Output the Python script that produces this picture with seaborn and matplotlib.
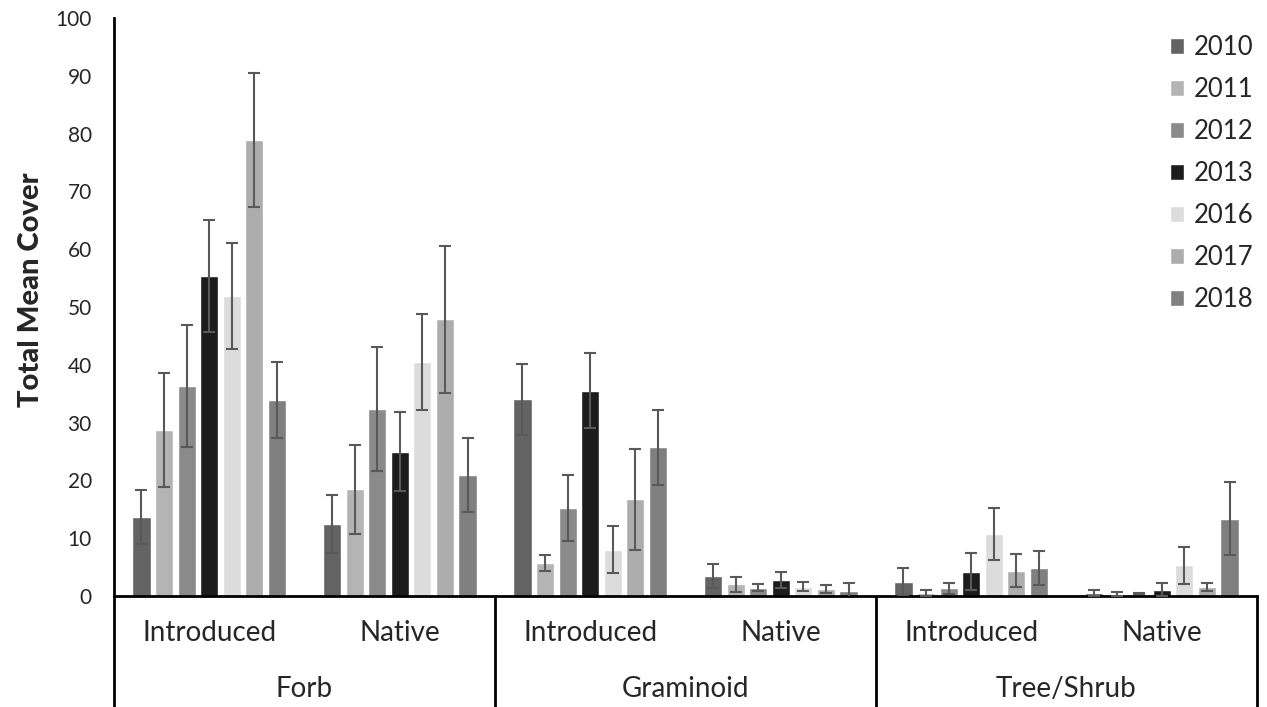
import matplotlib
matplotlib.use("Agg")
import matplotlib.pyplot as plt
import seaborn as sns
import pandas as pd
from matplotlib.transforms import blended_transform_factory

# ---------------- data ----------------
years = ["2010", "2011", "2012", "2013", "2016", "2017", "2018"]
groups = ["Forb", "Graminoid", "Tree/Shrub"]
origins = ["Introduced", "Native"]

# order: Forb-Intro, Forb-Native, Gram-Intro, Gram-Native, Tree-Intro, Tree-Native
mean_2010 = [13.7, 12.4, 34.0, 3.5, 2.5, 0.5]
mean_2011 = [28.7, 18.5, 5.7, 2.0, 0.5, 0.35]
mean_2012 = [36.3, 32.4, 15.3, 1.4, 1.3, 0.4]
mean_2013 = [55.4, 25.0, 35.5, 2.8, 4.2, 1.1]
mean_2016 = [51.9, 40.5, 8.0, 1.6, 10.8, 5.3]
mean_2017 = [78.9, 47.9, 16.7, 1.2, 4.4, 1.5]
mean_2018 = [33.9, 20.9, 25.7, 0.8, 4.8, 13.4]

se_2010 = [4.7, 5.0, 6.1, 2.1, 2.3, 0.5]
se_2011 = [9.9, 7.7, 1.4, 1.3, 0.5, 0.3]
se_2012 = [10.6, 10.7, 5.7, 0.6, 0.9, 0.05]
se_2013 = [9.7, 6.8, 6.5, 1.4, 3.2, 1.1]
se_2016 = [9.2, 8.3, 4.1, 0.8, 4.5, 3.2]
se_2017 = [11.6, 12.7, 8.8, 0.7, 2.8, 0.7]
se_2018 = [6.6, 6.4, 6.5, 1.4, 2.9, 6.3]

y_ticks = [0, 10, 20, 30, 40, 50, 60, 70, 80, 90, 100]

means = [mean_2010, mean_2011, mean_2012, mean_2013, mean_2016, mean_2017, mean_2018]
ses = [se_2010, se_2011, se_2012, se_2013, se_2016, se_2017, se_2018]

colors = ["#636363", "#b4b4b4", "#8a8a8a", "#1c1c1c", "#dcdcdc", "#adadad", "#808080"]

cats = [f"{g}|{o}" for g in groups for o in origins]
rows = []
for yr, mv in zip(years, means):
    for c, v in zip(cats, mv):
        rows.append({"cat": c, "year": yr, "cover": v})
df = pd.DataFrame(rows)

# ---------------- plot ----------------
sns.set_theme(style="white")
plt.rcParams["font.family"] = ["Lato", "DejaVu Sans"]

W, H = 1267, 707
fig = plt.figure(figsize=(W / 100, H / 100), dpi=100)
ax = fig.add_axes([114 / W, 1 - 596 / H, (1257 - 114) / W, (596 - 18) / H])

sns.barplot(data=df, x="cat", y="cover", hue="year", order=cats, hue_order=years,
            palette=dict(zip(years, colors)), errorbar=None, width=0.83, gap=0.2,
            saturation=1, ax=ax)

for cont, se in zip(ax.containers, ses):
    xs = [p.get_x() + p.get_width() / 2 for p in cont.patches]
    ys = [p.get_height() for p in cont.patches]
    ax.errorbar(xs, ys, yerr=se, fmt="none", ecolor="#595959", elinewidth=1.5,
                capsize=4.3, capthick=1.5, zorder=5)

ax.set_xlim(-0.5, len(cats) - 0.5)
ax.set_ylim(0, 100)
ax.set_yticks(y_ticks)
ax.tick_params(axis="y", length=0, pad=16, labelsize=15)
ax.set_xticks([])
ax.set_xlabel("")
ax.set_ylabel("Total Mean Cover", fontsize=21, fontweight=900)
ax.yaxis.set_label_coords((44 - 114) / (1257 - 114), 0.53)
for s in ["top", "right"]:
    ax.spines[s].set_visible(False)
for s in ["left", "bottom"]:
    ax.spines[s].set_color("black")
    ax.spines[s].set_linewidth(2)

# multi-level category axis
tr = blended_transform_factory(ax.transData, fig.transFigure)
y_sub = 1 - 633 / H
y_grp = 1 - 689 / H
for i, c in enumerate(cats):
    g, o = c.split("|")
    ax.text(i, y_sub, o, transform=tr, ha="center", va="center", fontsize=20)
for j, g in enumerate(groups):
    ax.text(2 * j + 0.5, y_grp, g, transform=tr, ha="center", va="center", fontsize=20)
for xb in [-0.5, 1.5, 3.5, 5.5]:
    ax.plot([xb, xb], [1 - 596 / H, 0], transform=tr, color="black",
            lw=2, clip_on=False, solid_capstyle="butt")

leg = ax.legend(loc="upper right", bbox_to_anchor=(1264 / W, 1 - 25 / H),
                bbox_transform=fig.transFigure, frameon=False, fontsize=18.5,
                handlelength=0.55, handleheight=0.55, handletextpad=0.4,
                labelspacing=0.66, borderaxespad=0)

fig.savefig("out.png", dpi=100)
